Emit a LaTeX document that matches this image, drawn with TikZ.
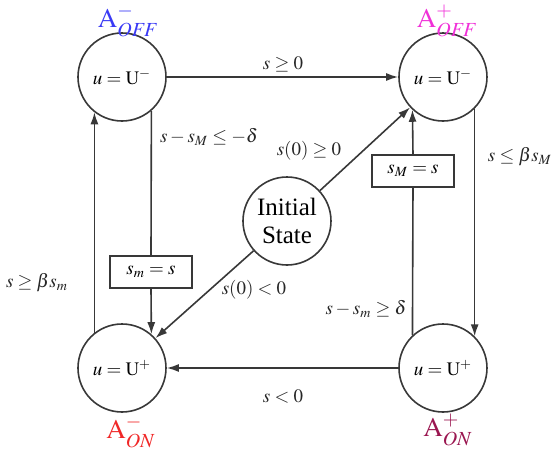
\documentclass[tikz,border=0pt]{standalone}
\usepackage{mathptmx}
\usepackage{fontspec}
\setmainfont{Liberation Serif}
\usepackage{tikz}
\usetikzlibrary{positioning,calc,arrows.meta}
\usepackage{xcolor}
\definecolor{lineclr}{HTML}{383838}
\definecolor{offneg}{HTML}{3A3AF5}
\definecolor{offpos}{HTML}{F030D8}
\definecolor{onneg}{HTML}{F02828}
\definecolor{onpos}{HTML}{9A1650}

\begin{document}
\begin{tikzpicture}[x=0.5pt,y=-0.5pt,>={Latex[length=6pt,width=4pt]},
  state/.style={circle,draw=lineclr,line width=0.8pt,minimum size=44pt,inner sep=0pt,font=\fontsize{9.5}{11}\selectfont},
  update/.style={draw=lineclr,line width=0.8pt,minimum width=41pt,minimum height=16pt,inner sep=0pt,font=\fontsize{9.5}{11}\selectfont},
  cond/.style={font=\fontsize{9.5}{11}\selectfont,text=black!85},
  modelbl/.style={font=\fontsize{13.5}{16}\selectfont}]
\useasboundingbox (0,0) rectangle (554,451);
% States
\node[state] (tl) at (122,77) {$u=\mathrm{U}^{-}$};
\node[state] (tr) at (443,77) {$u=\mathrm{U}^{-}$};
\node[state] (bl) at (122,368) {$u=\mathrm{U}^{+}$};
\node[state] (br) at (443,368) {$u=\mathrm{U}^{+}$};
\node[state,font=\fontsize{12.5}{14}\selectfont,align=center] (init) at (287,221) {Initial\\State};
% Mode labels
\node[modelbl,text=offneg] (lofn) at (128,21) {$\mathrm{A}^{-}_{\mathit{OFF}}$};
\node[modelbl,text=offpos] (lofp) at (447,21) {$\mathrm{A}^{+}_{\mathit{OFF}}$};
\node[modelbl,text=onneg] (lonn) at (131,432) {$\mathrm{A}^{-}_{\mathit{ON}}$};
\node[modelbl,text=onpos] (lonp) at (448,430) {$\mathrm{A}^{+}_{\mathit{ON}}$};
% Memory updates
\node[update] (sm) at (151,272) {$s_m=s$};
\node[update] (sM) at (413,171) {$s_M=s$};
% Transitions
\draw[->,lineclr,line width=0.8pt] (tl) -- (tr);
\draw[->,lineclr,line width=0.8pt] (br) -- (bl);
\draw[lineclr,line width=0.8pt] (tl.-49) -- (sm.north);
\draw[->,lineclr,line width=0.8pt] (sm.south) -- (bl.49);
\draw[->,lineclr,line width=0.8pt] (bl.128) -- (tl.-128);
\draw[->,lineclr,line width=0.8pt] (tr.-45) -- (br.45);
\draw[lineclr,line width=0.8pt] (br.133) -- (sM.south);
\draw[->,lineclr,line width=0.8pt] (sM.north) -- (tr.-133);
\draw[->,lineclr,line width=0.8pt] (init) -- (tr);
\draw[->,lineclr,line width=0.8pt] (init) -- (bl);
% Conditions
\node[cond] (c1) at (283,64) {$s\geq 0$};
\node[cond] (c2) at (283,397) {$s<0$};
\node[cond] (c3) at (209,137) {$s-s_M\leq -\delta$};
\node[cond] (c4) at (37,283) {$s\geq \beta s_m$};
\node[cond] (c5) at (366,309) {$s-s_m\geq \delta$};
\node[cond] (c6) at (520,157) {$s\leq \beta s_M$};
\node[cond] (c7) at (309,151) {$s(0)\geq 0$};
\node[cond] (c8) at (254,290) {$s(0)<0$};
\end{tikzpicture}
\end{document}
